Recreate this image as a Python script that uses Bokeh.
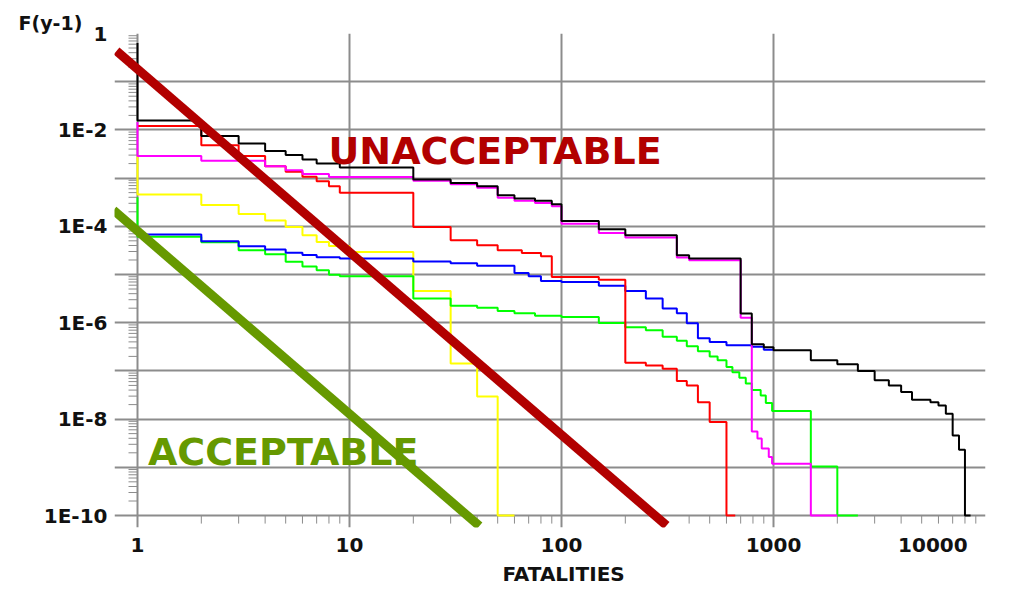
from bokeh.plotting import figure
from bokeh.models import Range1d, FixedTicker, Title, Label
from bokeh.embed import file_html
from bokeh.resources import INLINE

# ---------------- data ----------------
# F-N step curves: value F holds from N[i] to N[i+1]
BLACK_N = [1, 1, 2, 3, 4, 5, 6, 7, 9, 20, 30, 40, 50, 60, 75, 90, 100, 150, 200, 350, 400, 700,
           790, 900, 1000, 1500, 2000, 2500, 3000, 3500, 4000, 4500, 5500, 6000, 6500, 7000, 7500, 8000, 8500]
BLACK_F = [0.635, 0.0156, 0.00743, 0.00525, 0.00363, 0.0030, 0.00242, 0.00201, 0.00166, 0.000937,
           0.000796, 0.00068, 0.000443, 0.000378, 0.000337, 0.000288, 0.000129, 8.7e-5, 6.5e-5, 2.51e-5,
           2.14e-5, 1.55e-6, 3.56e-7, 3.1e-7, 2.67e-7, 1.66e-7, 1.37e-7, 9.93e-8, 6.37e-8, 5.0e-8,
           3.64e-8, 2.53e-8, 2.25e-8, 1.92e-8, 1.29e-8, 4.58e-9, 2.31e-9, 1e-10, 1e-10]

RED_N = [1, 2, 3, 4, 5, 6, 7, 8, 9, 20, 30, 40, 50, 65, 80, 90, 150, 200, 250, 300, 350, 390, 440,
         500, 600, 660]
RED_F = [0.0120, 0.00483, 0.00286, 0.00177, 0.00136, 0.00107, 0.000865, 0.00068, 0.000494, 9.72e-5,
         5.14e-5, 4.05e-5, 3.19e-5, 2.8e-5, 2.39e-5, 8.89e-6, 7.78e-6, 1.47e-7, 1.30e-7, 1.11e-7,
         6.15e-8, 5.0e-8, 2.25e-8, 8.67e-9, 1e-10, 1e-10]

MAGENTA_N = [1, 1, 2, 4, 5, 6, 8, 20, 30, 40, 50, 60, 75, 90, 100, 150, 200, 350, 400, 700, 790,
             840, 880, 950, 985, 1500, 2000]
MAGENTA_F = [0.0145, 0.00286, 0.0023, 0.00177, 0.00146, 0.00121, 0.00106, 0.000885, 0.000748,
             0.000634, 0.000393, 0.000337, 0.000306, 0.000261, 0.000113, 7.3e-5, 5.85e-5, 2.25e-5,
             1.98e-5, 1.26e-6, 5.55e-9, 3.97e-9, 2.46e-9, 1.64e-9, 1.19e-9, 1e-10, 1e-10]

BLUE_N = [1, 2, 3, 4, 5, 6, 7, 9, 20, 30, 40, 60, 70, 80, 100, 150, 200, 250, 300, 350, 390, 440,
          500, 600, 790, 900, 1000]
BLUE_F = [6.76e-5, 4.91e-5, 3.86e-5, 3.31e-5, 2.83e-5, 2.54e-5, 2.28e-5, 2.14e-5, 1.87e-5, 1.71e-5,
          1.52e-5, 1.08e-5, 9.2e-6, 7.35e-6, 7.0e-6, 5.84e-6, 4.55e-6, 3.16e-6, 1.96e-6, 1.57e-6,
          9.72e-7, 4.74e-7, 3.97e-7, 3.4e-7, 3.16e-7, 2.74e-7, 2.74e-7]

GREEN_N = [1, 1, 2, 3, 4, 5, 6, 7, 8, 9, 20, 30, 40, 50, 60, 75, 100, 150, 200, 250, 300, 350, 390,
           440, 500, 545, 600, 640, 690, 740, 790, 870, 920, 985, 1500, 2000, 2500]
GREEN_F = [4.02e-4, 6.08e-5, 4.68e-5, 3.19e-5, 2.64e-5, 1.84e-5, 1.46e-5, 1.23e-5, 9.88e-6, 9.2e-6,
           3.16e-6, 2.25e-6, 2.04e-6, 1.75e-6, 1.57e-6, 1.39e-6, 1.31e-6, 9.86e-7, 8.02e-7, 6.95e-7,
           5.09e-7, 4.21e-7, 3.24e-7, 2.55e-7, 2.0e-7, 1.66e-7, 1.21e-7, 9.33e-8, 7.17e-8, 5.51e-8,
           4.04e-8, 3.1e-8, 2.17e-8, 1.48e-8, 1.04e-9, 1e-10, 1e-10]

YELLOW_N = [1, 1, 2, 3, 4, 5, 6, 7, 8, 10, 20, 30, 40, 50, 60]
YELLOW_F = [0.0029, 4.57e-4, 2.78e-4, 1.8e-4, 1.32e-4, 9.72e-5, 6.53e-5, 4.74e-5, 3.92e-5, 2.94e-5,
            4.55e-6, 1.42e-7, 2.96e-8, 1e-10, 1e-10]

# criterion lines
UNACC_N = [0.796, 313]
UNACC_F = [0.433, 6.2e-11]
ACC_N = [0.77, 41.0]
ACC_F = [2.16e-4, 6.05e-11]

# axes
X_TICKS = [1, 10, 100, 1000, 10000]
X_TICK_LABELS = ["1", "10", "100", "1000", "10000"]
Y_DECADES = [1e-10, 1e-9, 1e-8, 1e-7, 1e-6, 1e-5, 1e-4, 1e-3, 1e-2, 1e-1, 1]
Y_LABEL_TICKS = [1, 1e-2, 1e-4, 1e-6, 1e-8, 1e-10]
Y_TICK_LABELS = ["1", "1E-2", "1E-4", "1E-6", "1E-8", "1E-10"]
MINOR_MULT = [2, 3, 4, 5, 6, 7, 8, 9]

FONT = "DejaVu Sans"
GRID = "#8c8c8c"
TXT = "#111111"
DARKRED = "#b20000"
OLIVE = "#669900"
NBSP = "\u00a0"

p = figure(width=995, height=585, x_axis_type="log", y_axis_type="log",
           x_range=Range1d(0.779, 10000), y_range=Range1d(5.64e-11, 1.0),
           output_backend="svg", toolbar_location=None,
           min_border_left=114, min_border_right=10, min_border_top=33, min_border_bottom=58)
p.outline_line_color = None
p.background_fill_color = "white"
p.border_fill_color = "white"

p.xaxis.ticker = FixedTicker(ticks=X_TICKS, minor_ticks=[])
p.yaxis.ticker = FixedTicker(ticks=Y_LABEL_TICKS, minor_ticks=[])
p.xgrid.ticker = FixedTicker(ticks=X_TICKS)
p.ygrid.ticker = FixedTicker(ticks=Y_DECADES)

x_over = dict(zip(X_TICKS, X_TICK_LABELS))
x_over[X_TICKS[-1]] = X_TICK_LABELS[-1] + NBSP * 4   # keep last label inside the canvas
p.xaxis.major_label_overrides = x_over
p.yaxis.major_label_overrides = dict(zip(Y_LABEL_TICKS, Y_TICK_LABELS))

for ax in (p.xaxis, p.yaxis):
    ax.axis_line_color = None
    ax.major_tick_line_color = None
    ax.minor_tick_line_color = None
    ax.major_tick_out = 0
    ax.major_tick_in = 0
    ax.minor_tick_in = 0
    ax.minor_tick_out = 0
    ax.major_label_text_font = FONT
    ax.major_label_text_font_style = "bold"
    ax.major_label_text_font_size = "20px"
    ax.major_label_text_color = TXT
p.xaxis.major_label_standoff = 5
p.yaxis.major_label_standoff = 7

for g in (p.xgrid, p.ygrid):
    g.grid_line_color = GRID
    g.grid_line_width = 2

# minor tick marks beside the x = 1 and F = 1E-10 axis lines
y_minor = [m * d for d in Y_DECADES[:-1] for m in MINOR_MULT]
x_minor = [m * d for d in X_TICKS[:-1] for m in MINOR_MULT]
p.segment(x0=[0.907] * len(y_minor), y0=y_minor, x1=[1] * len(y_minor), y1=y_minor,
          line_color=GRID, line_width=1)
p.segment(x0=x_minor, y0=[1e-10] * len(x_minor), x1=x_minor, y1=[6.8e-11] * len(x_minor),
          line_color=GRID, line_width=1)

# step curves
for xs, ys, col in [(YELLOW_N, YELLOW_F, "#ffff00"), (GREEN_N, GREEN_F, "#00ff00"),
                    (BLUE_N, BLUE_F, "#0000ff"), (RED_N, RED_F, "#ff0000"),
                    (MAGENTA_N, MAGENTA_F, "#ff00ff"), (BLACK_N, BLACK_F, "#000000")]:
    p.step(xs, ys, mode="after", line_color=col, line_width=2)

# criterion lines
p.line(UNACC_N, UNACC_F, line_color=DARKRED, line_width=9)
p.line(ACC_N, ACC_F, line_color=OLIVE, line_width=9)

# region texts
p.add_layout(Label(x=7.96, y=3.65e-3, text="UNACCEPTABLE", text_font=FONT, text_font_style="bold",
                   text_font_size="38px", text_color=DARKRED, text_align="left", text_baseline="middle"))
p.add_layout(Label(x=1.12, y=2.11e-9, text="ACCEPTABLE", text_font=FONT, text_font_style="bold",
                   text_font_size="38px", text_color=OLIVE, text_align="left", text_baseline="middle"))

# y-axis title at the top left, x-axis title below
p.title.text = "F(y-1)"
p.title.align = "left"
p.title.offset = -96
p.title.standoff = 0
p.title.text_font = FONT
p.title.text_font_style = "bold"
p.title.text_font_size = "19px"
p.title.text_color = TXT

p.add_layout(Title(text="FATALITIES", align="left", offset=388, standoff=0, text_font=FONT,
                   text_font_style="bold", text_font_size="20px", text_color=TXT), "below")

open("out.html", "w").write(file_html(p, INLINE))
